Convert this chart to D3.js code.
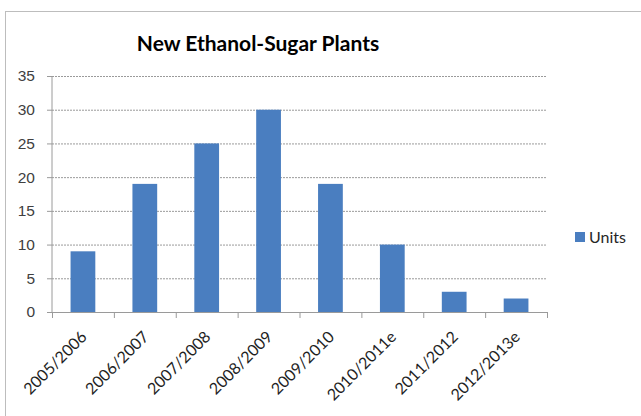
<!DOCTYPE html>
<html>
<head>
<meta charset="utf-8">
<script src="https://cdn.jsdelivr.net/npm/d3@7"></script>
<style>
  body { margin: 0; background: #fff; }
  svg { display: block; font-family: Lato, "Open Sans", sans-serif; }
</style>
</head>
<body>
<svg id="chart" width="641" height="416"></svg>
<script>
const categories = ["2005/2006", "2006/2007", "2007/2008", "2008/2009", "2009/2010", "2010/2011e", "2011/2012", "2012/2013e"];
const units = [9, 19, 25, 30, 19, 10, 3, 2];
const yTicks = [0, 5, 10, 15, 20, 25, 30, 35];
const seriesName = "Units";
const title = "New Ethanol-Sugar Plants";

const svg = d3.select("#chart");
const W = 641, H = 416;
const m = { left: 52, right: 94, top: 76, bottom: 104 };

// outer dashed border
svg.append("rect")
  .attr("x", 5.5).attr("y", 11.5)
  .attr("width", W + 10).attr("height", H + 10)
  .attr("fill", "none").attr("stroke", "#7a7a7a")
  .attr("stroke-dasharray", "1,1");

const x = d3.scaleBand().domain(categories).range([m.left, W - m.right]).paddingInner(0.6).paddingOuter(0.3);
const xb = d3.scaleBand().domain(categories).range([m.left, W - m.right]);
const y = d3.scaleLinear().domain([0, 35]).range([H - m.bottom, m.top]);

// gridlines
svg.append("g")
  .attr("transform", `translate(${m.left},0)`)
  .call(d3.axisLeft(y).tickValues(yTicks).tickSize(-(W - m.right - m.left)).tickFormat(""))
  .call(g => g.select(".domain").remove())
  .call(g => g.selectAll("line").attr("stroke", "#9a9a9a").attr("stroke-dasharray", "2,1"));

// y axis
const yAxis = svg.append("g")
  .attr("transform", `translate(${m.left},0)`)
  .call(d3.axisLeft(y).tickValues(yTicks).tickSize(5).tickPadding(12));
yAxis.select(".domain").attr("stroke", "#9a9a9a").attr("d", `M0,${y(35)}V${y(0)}`);
yAxis.selectAll("line").attr("stroke", "#9a9a9a");
yAxis.selectAll("text").attr("fill", "#404040").style("font-size", "15.5px");

// bars
svg.append("g").selectAll("rect")
  .data(units)
  .join("rect")
  .attr("x", (d, i) => x(categories[i]))
  .attr("y", d => y(d))
  .attr("width", x.bandwidth())
  .attr("height", d => y(0) - y(d))
  .attr("fill", "#4a7ec0");

// x axis
const xAxisG = svg.append("g").attr("transform", `translate(0,${y(0)})`);
xAxisG.append("path")
  .attr("d", `M${m.left - 5},0.5H${W - m.right}`)
  .attr("stroke", "#9a9a9a").attr("stroke-dasharray", "2,1");
xAxisG.selectAll("line.tk")
  .data(categories.concat(["__end"]))
  .join("line").attr("class", "tk")
  .attr("x1", (d, i) => i < categories.length ? xb(d) + 0.5 : W - m.right + 0.5)
  .attr("x2", (d, i) => i < categories.length ? xb(d) + 0.5 : W - m.right + 0.5)
  .attr("y1", 0).attr("y2", 6)
  .attr("stroke", "#9a9a9a");
xAxisG.selectAll("text")
  .data(categories)
  .join("text")
  .attr("transform", d => `translate(${xb(d) + xb.bandwidth() / 2 - 3},18) rotate(-45)`)
  .attr("text-anchor", "end")
  .attr("dy", "0.7em")
  .attr("fill", "#1f1f1f")
  .style("font-size", "16px")
  .text(d => d);

// title
svg.append("text")
  .attr("x", 258).attr("y", 51)
  .attr("text-anchor", "middle")
  .style("font-size", "21px").style("font-weight", "bold")
  .attr("fill", "#000")
  .text(title);

// legend
const lg = svg.append("g").attr("transform", "translate(575,232)");
lg.append("rect").attr("width", 10).attr("height", 10).attr("fill", "#4a7ec0");
lg.append("text").attr("x", 14).attr("y", 10.5).attr("fill", "#262626").style("font-size", "16px").text(seriesName);
</script>
</body>
</html>
